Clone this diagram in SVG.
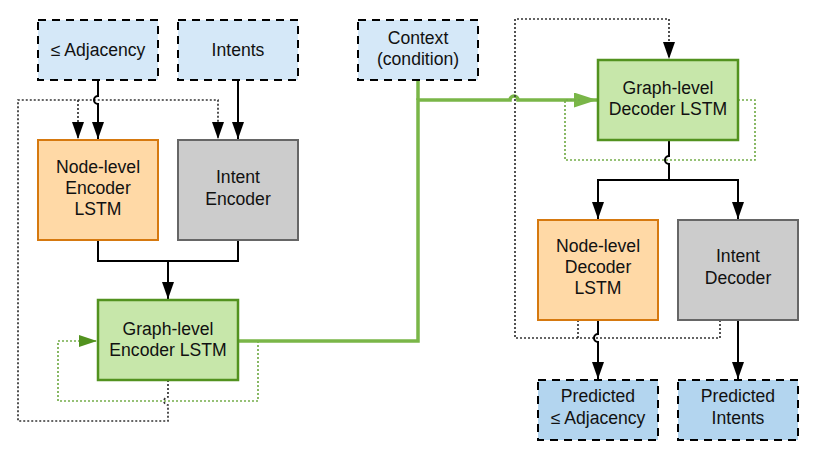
<svg xmlns="http://www.w3.org/2000/svg" width="815" height="456" viewBox="0 0 815 456">
<defs>
<style>
.t{font-family:"Liberation Sans",Arial,sans-serif;font-size:17.6px;fill:#111;text-anchor:middle}
.io{fill:#d5e8f8;stroke:#000;stroke-width:2;stroke-dasharray:8 6}
.out{fill:#b3d5ef;stroke:#000;stroke-width:2;stroke-dasharray:8 6}
.org{fill:#ffd9a6;stroke:#d6790f;stroke-width:2}
.gry{fill:#cccccc;stroke:#666;stroke-width:2}
.grn{fill:#c7e7aa;stroke:#52921f;stroke-width:2.5}
.blk{fill:none;stroke:#000;stroke-width:2}
.dot{fill:none;stroke:#333;stroke-width:1.7;stroke-dasharray:2 2}
.gdot{fill:none;stroke:#74ad4a;stroke-width:1.7;stroke-dasharray:2 2}
.thick{fill:none;stroke:#7ab648;stroke-width:3.5}
</style>
<marker id="ab" viewBox="0 0 17 12" refX="17" refY="6" markerWidth="17" markerHeight="12" markerUnits="userSpaceOnUse" orient="auto">
<path d="M0,0 L17,6 L0,12 z" fill="#000"/>
</marker>
<marker id="ag" viewBox="0 0 18 12" refX="18" refY="6" markerWidth="18" markerHeight="12" markerUnits="userSpaceOnUse" orient="auto">
<path d="M0,0 L18,6 L0,12 z" fill="#52921f"/>
</marker>
<marker id="agb" viewBox="0 0 23 15" refX="23" refY="7.5" markerWidth="23" markerHeight="15" markerUnits="userSpaceOnUse" orient="auto">
<path d="M0,0 L23,7.5 L0,15 z" fill="#7ab648"/>
</marker>
</defs>

<g id="connectors">
<path class="dot" d="M168,380 V397 a4,4 0 0,0 0,8 V421 H18 V100 H218 V139" marker-end="url(#ab)"/>
<path class="dot" d="M78,100 V139" marker-end="url(#ab)"/>
<path class="blk" d="M98,80 V96 a4,4 0 0,0 0,8 V139" marker-end="url(#ab)"/>
<path class="blk" d="M238,80 V139" marker-end="url(#ab)"/>
<path class="blk" d="M98,240 V261 H238 V240 M168,261 V299" marker-end="url(#ab)"/>
<path class="gdot" d="M238,341 H258 V401 H58 V341 H97" marker-end="url(#ag)"/>
<path class="thick" d="M238,341 H418 V100 H510 a4,4 0 0,1 8,0 H597" marker-end="url(#agb)"/>
<path class="thick" d="M418,80 V100"/>
<path class="dot" d="M578,320 V338 M720,320 V338 H515 V19 H669 V59" marker-end="url(#ab)"/>
<path class="gdot" d="M738,100 H755 V160 H565 V100 H580"/>
<path class="blk" d="M669,140 V156 a4,4 0 0,0 0,8 V180 H598 V219" marker-end="url(#ab)"/>
<path class="blk" d="M669,180 H738 V219" marker-end="url(#ab)"/>
<path class="blk" d="M598,320 V334 a4,4 0 0,0 0,8 V379" marker-end="url(#ab)"/>
<path class="blk" d="M738,320 V379" marker-end="url(#ab)"/>
</g>

<g id="adjacency"><rect class="io" x="38" y="20" width="120" height="60"/><text class="t" x="98" y="56">≤ Adjacency</text></g>
<g id="intents"><rect class="io" x="178" y="20" width="120" height="60"/><text class="t" x="238" y="56">Intents</text></g>
<g id="context"><rect class="io" x="358" y="20" width="120" height="60"/><text class="t" x="418" y="44">Context</text><text class="t" x="418" y="65">(condition)</text></g>
<g id="node-encoder"><rect class="org" x="38" y="140" width="120" height="100"/><text class="t" x="98" y="173">Node-level</text><text class="t" x="98" y="194">Encoder</text><text class="t" x="98" y="215">LSTM</text></g>
<g id="intent-encoder"><rect class="gry" x="178" y="140" width="120" height="100"/><text class="t" x="238" y="183">Intent</text><text class="t" x="238" y="205">Encoder</text></g>
<g id="graph-encoder"><rect class="grn" x="98" y="300" width="140" height="80"/><text class="t" x="168" y="335">Graph-level</text><text class="t" x="168" y="356">Encoder LSTM</text></g>
<g id="graph-decoder"><rect class="grn" x="598" y="60" width="140" height="80"/><text class="t" x="668" y="94">Graph-level</text><text class="t" x="668" y="115">Decoder LSTM</text></g>
<g id="node-decoder"><rect class="org" x="538" y="220" width="120" height="100"/><text class="t" x="598" y="252">Node-level</text><text class="t" x="598" y="273">Decoder</text><text class="t" x="598" y="294">LSTM</text></g>
<g id="intent-decoder"><rect class="gry" x="678" y="220" width="120" height="100"/><text class="t" x="738" y="262">Intent</text><text class="t" x="738" y="284">Decoder</text></g>
<g id="pred-adjacency"><rect class="out" x="538" y="380" width="120" height="60"/><text class="t" x="598" y="402">Predicted</text><text class="t" x="598" y="424">≤ Adjacency</text></g>
<g id="pred-intents"><rect class="out" x="678" y="380" width="120" height="60"/><text class="t" x="738" y="402">Predicted</text><text class="t" x="738" y="424">Intents</text></g>
</svg>
